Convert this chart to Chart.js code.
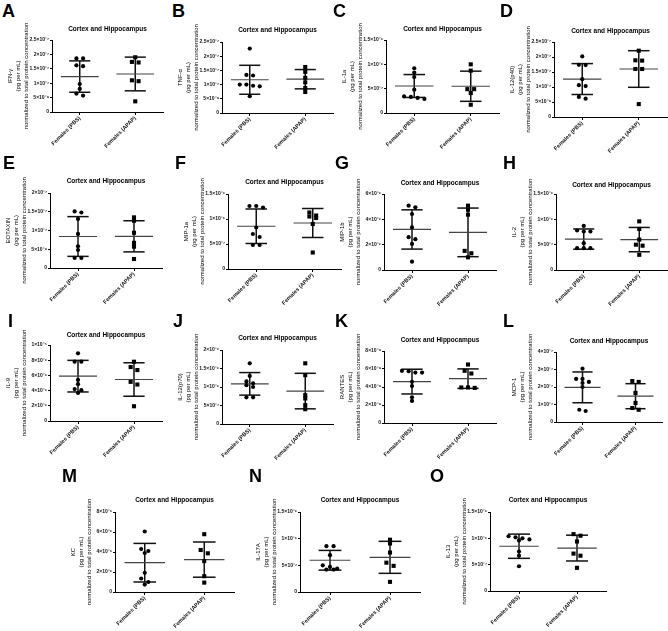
<!DOCTYPE html>
<html>
<head>
<meta charset="utf-8">
<script src="https://cdn.jsdelivr.net/npm/chart.js@4.4.1/dist/chart.umd.min.js"></script>
<style>
  html, body { margin: 0; padding: 0; background: #fff; overflow: hidden; }
  #fig { position: relative; width: 668px; height: 631px; }
  #fig canvas { position: absolute; }
  .letter { position: absolute; font: bold 18px 'Liberation Sans', Arial, sans-serif; line-height: 18px; color: #000; }
</style>
</head>
<body>
<div id="fig"></div>
<script>
const FONT = "'Liberation Sans', Arial, sans-serif";

const panelLetters = ['A', 'B', 'C', 'D', 'E', 'F', 'G', 'H', 'I', 'J', 'K', 'L', 'M', 'N', 'O'];
const groups = ['Females (PBS)', 'Females (APAP)'];
const chartTitle = 'Cortex and Hippocampus';
const cytokines = ['IFN-γ', 'TNF-α', 'IL-1a', 'IL-12(p40)', 'EOTAXIN', 'MIP-1a', 'MIP-1b', 'IL-2',
    'IL-9', 'IL-12(p70)', 'RANTES', 'MCP-1', 'KC', 'IL-17A', 'IL-13'];
const yUnitLines = ['(pg per mL)', 'normalized to total protein concentration'];

const yMax = [2.5e-7, 2.5e-7, 1.5e-6, 2.5e-7, 2e-7, 1.5e-6, 6e-6, 1.5e-6, 1e-5, 2e-6, 8e-8, 4e-7, 8e-6, 1.5e-6, 1.5e-6];
const yTickLabels = [
    ['0', '5×10⁻⁸', '1×10⁻⁷', '1.5×10⁻⁷', '2×10⁻⁷', '2.5×10⁻⁷'],
    ['0', '5×10⁻⁸', '1×10⁻⁷', '1.5×10⁻⁷', '2×10⁻⁷', '2.5×10⁻⁷'],
    ['0', '5×10⁻⁷', '1×10⁻⁶', '1.5×10⁻⁶'],
    ['0', '5×10⁻⁸', '1×10⁻⁷', '1.5×10⁻⁷', '2×10⁻⁷', '2.5×10⁻⁷'],
    ['0', '5×10⁻⁸', '1×10⁻⁷', '1.5×10⁻⁷', '2×10⁻⁷'],
    ['0', '5×10⁻⁷', '1×10⁻⁶', '1.5×10⁻⁶'],
    ['0', '2×10⁻⁶', '4×10⁻⁶', '6×10⁻⁶'],
    ['0', '5×10⁻⁷', '1×10⁻⁶', '1.5×10⁻⁶'],
    ['0', '2×10⁻⁶', '4×10⁻⁶', '6×10⁻⁶', '8×10⁻⁶', '1×10⁻⁵'],
    ['0', '5×10⁻⁷', '1×10⁻⁶', '1.5×10⁻⁶', '2×10⁻⁶'],
    ['0', '2×10⁻⁸', '4×10⁻⁸', '6×10⁻⁸', '8×10⁻⁸'],
    ['0', '1×10⁻⁷', '2×10⁻⁷', '3×10⁻⁷', '4×10⁻⁷'],
    ['0', '2×10⁻⁶', '4×10⁻⁶', '6×10⁻⁶', '8×10⁻⁶'],
    ['0', '5×10⁻⁷', '1×10⁻⁶', '1.5×10⁻⁶'],
    ['0', '5×10⁻⁷', '1×10⁻⁶', '1.5×10⁻⁶']
];

// individual animals
const pbsValues = [
    [1.86e-7, 1.86e-7, 1.59e-7, 1.62e-7, 0.97e-7, 0.80e-7, 0.57e-7, 0.64e-7],
    [2.27e-7, 1.34e-7, 1.32e-7, 1.0e-7, 0.96e-7, 1.0e-7, 0.94e-7, 0.59e-7],
    [0.92e-6, 0.83e-6, 0.74e-6, 0.48e-6, 0.34e-6, 0.31e-6, 0.33e-6, 0.29e-6],
    [2.02e-7, 1.73e-7, 1.74e-7, 1.26e-7, 1.06e-7, 1.03e-7, 0.61e-7, 0.67e-7],
    [1.48e-7, 1.51e-7, 1.31e-7, 0.91e-7, 0.58e-7, 0.48e-7, 0.27e-7, 0.27e-7],
    [1.26e-6, 1.26e-6, 1.23e-6, 0.83e-6, 0.70e-6, 0.64e-6, 0.48e-6, 0.48e-6],
    [4.95e-6, 5.08e-6, 4.42e-6, 3.36e-6, 2.43e-6, 2.59e-6, 2.06e-6, 0.66e-6],
    [0.87e-6, 0.78e-6, 0.76e-6, 0.76e-6, 0.53e-6, 0.43e-6, 0.43e-6, 0.43e-6],
    [8.9e-6, 7.8e-6, 7.8e-6, 5.4e-6, 4.85e-6, 4.2e-6, 4.05e-6, 3.7e-6],
    [1.64e-6, 1.30e-6, 1.15e-6, 1.10e-6, 1.05e-6, 1.0e-6, 0.72e-6, 0.72e-6],
    [5.75e-8, 5.6e-8, 5.6e-8, 5.8e-8, 4.58e-8, 4.1e-8, 2.86e-8, 2.45e-8],
    [3.05e-7, 2.46e-7, 2.46e-7, 2.29e-7, 2.23e-7, 2.0e-7, 0.63e-7, 0.7e-7],
    [6.05e-6, 4.3e-6, 4.1e-6, 3.9e-6, 1.92e-6, 1.35e-6, 1.0e-6, 0.74e-6],
    [0.86e-6, 0.86e-6, 0.69e-6, 0.5e-6, 0.47e-6, 0.44e-6, 0.42e-6, 0.42e-6],
    [1.04e-6, 1.02e-6, 1.0e-6, 0.98e-6, 0.96e-6, 0.75e-6, 0.67e-6, 0.47e-6]
];
const apapValues = [
    [1.90e-7, 1.74e-7, 1.72e-7, 1.10e-7, 1.07e-7, 0.37e-7],
    [1.62e-7, 1.45e-7, 1.24e-7, 1.08e-7, 0.88e-7, 0.74e-7],
    [1.0e-6, 0.87e-6, 0.49e-6, 0.49e-6, 0.41e-6, 0.17e-6],
    [2.21e-7, 1.89e-7, 1.88e-7, 1.60e-7, 1.60e-7, 0.43e-7],
    [1.35e-7, 1.26e-7, 0.94e-7, 0.67e-7, 0.57e-7, 0.24e-7],
    [1.13e-6, 1.07e-6, 1.05e-6, 1.02e-6, 0.90e-6, 0.33e-6],
    [5.08e-6, 4.76e-6, 4.37e-6, 1.51e-6, 1.32e-6, 1.0e-6],
    [0.96e-6, 0.81e-6, 0.60e-6, 0.50e-6, 0.48e-6, 0.30e-6],
    [7.8e-6, 7.1e-6, 6.7e-6, 5.15e-6, 4.8e-6, 1.94e-6],
    [1.64e-6, 1.32e-6, 0.78e-6, 0.69e-6, 0.51e-6, 0.40e-6],
    [6.5e-8, 5.8e-8, 5.5e-8, 3.95e-8, 3.9e-8, 3.95e-8],
    [2.29e-7, 2.34e-7, 1.66e-7, 1.09e-7, 0.7e-7, 0.8e-7],
    [5.78e-6, 4.2e-6, 3.87e-6, 3.09e-6, 1.58e-6, 0.94e-6],
    [0.98e-6, 0.91e-6, 0.74e-6, 0.55e-6, 0.49e-6, 0.19e-6],
    [1.05e-6, 1.08e-6, 0.94e-6, 0.71e-6, 0.67e-6, 0.44e-6]
];

// mean and SD bars as drawn
const pbsMean = [1.23e-7, 1.17e-7, 0.555e-6, 1.265e-7, 0.84e-7, 0.855e-6, 3.2e-6, 0.61e-6, 5.9e-6, 1.085e-6, 4.6e-8, 1.98e-7, 2.93e-6, 0.595e-6, 0.85e-6];
const pbsSd = [0.545e-7, 0.51e-7, 0.235e-6, 0.515e-7, 0.53e-7, 0.345e-6, 1.55e-6, 0.2e-6, 2.08e-6, 0.305e-6, 1.375e-8, 0.88e-7, 1.93e-6, 0.185e-6, 0.23e-6];
const apapMean = [1.32e-7, 1.19e-7, 0.55e-6, 1.60e-7, 0.845e-7, 0.92e-6, 2.97e-6, 0.6e-6, 5.46e-6, 0.89e-6, 4.93e-8, 1.475e-7, 3.24e-6, 0.65e-6, 0.815e-6];
const apapSd = [0.585e-7, 0.34e-7, 0.31e-6, 0.61e-7, 0.415e-7, 0.29e-6, 1.92e-6, 0.24e-6, 2.2e-6, 0.48e-6, 1.08e-8, 0.715e-7, 1.76e-6, 0.3e-6, 0.245e-6];

// page layout: y-axis x, x-axis right end, top tick y, zero y, title centre y
const boxes = [
    [52, 163, 40, 112, 29], [222, 333, 42, 113, 30.5], [386, 499, 40, 113, 29], [554, 667, 42, 117, 31.5],
    [50, 162, 193, 268, 181.5], [228, 341, 194, 269, 182.5], [384, 496, 194, 270, 183], [556, 667, 194, 270, 185],
    [50, 162, 345, 421, 335.5], [222, 333, 350, 424, 338], [384, 496, 351, 423, 340.5], [556, 662, 352, 422, 341.5],
    [115, 234, 512, 592, 500], [300, 420, 512, 592, 500.5], [490, 606, 512, 591, 500]
];
const letterPos = [
    [2, 2], [172, 2], [333, 2], [500, 2],
    [3, 154], [175, 154], [335, 154], [503, 154],
    [8, 312], [173, 312], [335, 312], [503, 312],
    [62, 467], [249, 467], [430, 467]
];

const Y_AXIS_W = 52;
const TOP_SPACE = 30;
const X_AXIS_H = 40;

// spread near-equal values sideways, like a scatter dot plot
function swarm(values, thr, step) {
    const order = values.map((v, i) => i).sort((a, b) => values[b] - values[a]);
    const xs = new Array(values.length).fill(0);
    let cluster = [];
    const flush = () => {
        cluster.forEach((idx, k) => { xs[idx] = (k - (cluster.length - 1) / 2) * step; });
        cluster = [];
    };
    order.forEach(idx => {
        if (cluster.length && values[cluster[0]] - values[idx] > thr) flush();
        cluster.push(idx);
    });
    flush();
    return xs;
}

const meanSdBars = {
    id: 'meanSdBars',
    beforeDatasetsDraw(chart, args, opts) {
        const { ctx, scales: { x, y } } = chart;
        const seg = (x1, y1, x2, y2) => {
            ctx.beginPath();
            ctx.moveTo(x1, y1);
            ctx.lineTo(x2, y2);
            ctx.stroke();
        };
        ctx.save();
        opts.means.forEach((m, g) => {
            const sd = opts.sds[g];
            const cx = g + 1;
            const hi = y.getPixelForValue(m + sd);
            const lo = y.getPixelForValue(m - sd);
            ctx.strokeStyle = '#111';
            ctx.lineWidth = 1.5;
            seg(x.getPixelForValue(cx), hi, x.getPixelForValue(cx), lo);
            seg(x.getPixelForValue(cx - 0.19), hi, x.getPixelForValue(cx + 0.19), hi);
            seg(x.getPixelForValue(cx - 0.19), lo, x.getPixelForValue(cx + 0.19), lo);
            ctx.strokeStyle = '#444';
            ctx.lineWidth = 1.2;
            const my = y.getPixelForValue(m);
            seg(x.getPixelForValue(cx - 0.34), my, x.getPixelForValue(cx + 0.34), my);
        });
        ctx.restore();
    }
};

function drawPanel(p) {
    const [axisX, right, top, zero, titleY] = boxes[p];
    const fig = document.getElementById('fig');

    const letter = document.createElement('div');
    letter.className = 'letter';
    letter.textContent = panelLetters[p];
    letter.style.left = letterPos[p][0] + 'px';
    letter.style.top = letterPos[p][1] + 'px';
    fig.appendChild(letter);

    const w = right - axisX + Y_AXIS_W + 4;
    const h = zero - top + TOP_SPACE + X_AXIS_H + 2;
    const canvas = document.createElement('canvas');
    canvas.width = w;
    canvas.height = h;
    canvas.style.width = w + 'px';
    canvas.style.height = h + 'px';
    canvas.style.left = (axisX - Y_AXIS_W) + 'px';
    canvas.style.top = (top - TOP_SPACE) + 'px';
    fig.appendChild(canvas);

    const titleSize = 6.5;
    const padTop = titleY - (top - TOP_SPACE) - titleSize * 0.6;
    const padBottom = TOP_SPACE - titleSize * 1.2 - padTop;

    const thr = yMax[p] * 0.045;
    const pbsX = swarm(pbsValues[p], thr, 0.12);
    const apapX = swarm(apapValues[p], thr, 0.12);
    const labels = yTickLabels[p];

    new Chart(canvas, {
        type: 'scatter',
        data: {
            datasets: [{
                data: pbsValues[p].map((v, i) => ({ x: 1 + pbsX[i], y: v })),
                pointStyle: 'circle',
                pointRadius: 2.1,
                backgroundColor: '#000',
                borderColor: '#000',
                borderWidth: 0,
                clip: false
            }, {
                data: apapValues[p].map((v, i) => ({ x: 2 + apapX[i], y: v })),
                pointStyle: 'rect',
                pointRadius: 2.9,
                backgroundColor: '#000',
                borderColor: '#000',
                borderWidth: 0,
                clip: false
            }]
        },
        options: {
            responsive: false,
            animation: false,
            events: [],
            layout: { padding: { left: 0, right: 4, top: 0, bottom: 2 } },
            plugins: {
                legend: { display: false },
                tooltip: { enabled: false },
                title: {
                    display: true,
                    text: chartTitle,
                    fullSize: false,
                    color: '#000',
                    font: { family: FONT, size: titleSize, weight: 'bold', lineHeight: 1.2 },
                    padding: { top: padTop, bottom: padBottom }
                },
                meanSdBars: {
                    means: [pbsMean[p], apapMean[p]],
                    sds: [pbsSd[p], apapSd[p]]
                }
            },
            scales: {
                x: {
                    type: 'linear',
                    min: 0.5,
                    max: 2.5,
                    afterBuildTicks: s => { s.ticks = [{ value: 1 }, { value: 2 }]; },
                    afterFit: s => { s.height = X_AXIS_H; },
                    ticks: {
                        autoSkip: false,
                        minRotation: 45,
                        maxRotation: 45,
                        padding: 0,
                        color: '#111',
                        font: { family: FONT, size: 5.5, weight: 'bold' },
                        callback: v => groups[v - 1] || ''
                    },
                    grid: { drawOnChartArea: false, drawTicks: true, tickLength: 3, color: '#000' },
                    border: { display: true, color: '#000', width: 1 }
                },
                y: {
                    type: 'linear',
                    min: 0,
                    max: yMax[p],
                    afterBuildTicks: s => {
                        s.ticks = labels.map((l, i) => ({ value: yMax[p] * i / (labels.length - 1) }));
                    },
                    afterFit: s => { s.width = Y_AXIS_W; },
                    ticks: {
                        padding: 1,
                        color: '#111',
                        font: { family: FONT, size: 5, weight: 'bold' },
                        callback: (v, i) => labels[i]
                    },
                    grid: { drawOnChartArea: false, drawTicks: true, tickLength: 2, color: '#000' },
                    border: { display: true, color: '#000', width: 1 },
                    title: {
                        display: true,
                        text: [cytokines[p], ...yUnitLines],
                        color: '#000',
                        font: { family: FONT, size: 6, lineHeight: 1.35 },
                        padding: { top: 6, bottom: 0 }
                    }
                }
            }
        },
        plugins: [meanSdBars]
    });
}

panelLetters.forEach((l, p) => drawPanel(p));
</script>
</body>
</html>
